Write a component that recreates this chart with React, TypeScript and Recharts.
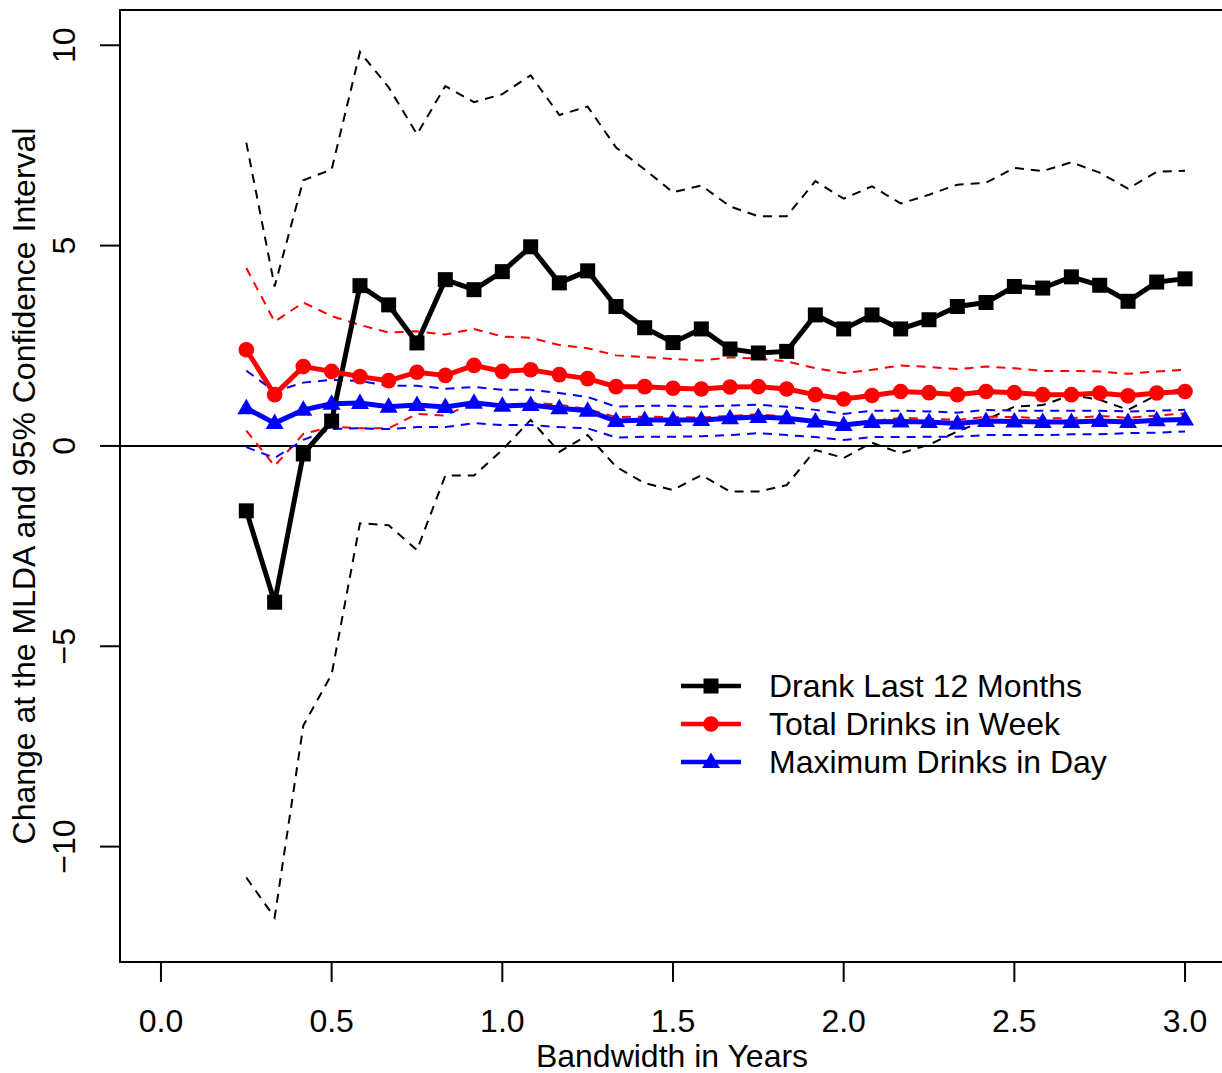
import React from "react";
import {
  LineChart,
  Line,
  XAxis,
  YAxis,
  ReferenceLine,
  ReferenceArea,
} from "recharts";

// bandwidth (years) of each estimate
const bandwidth = [
  0.25, 0.333, 0.417, 0.5, 0.583, 0.667, 0.75, 0.833, 0.917, 1, 1.083, 1.167,
  1.25, 1.333, 1.417, 1.5, 1.583, 1.667, 1.75, 1.833, 1.917, 2, 2.083, 2.167,
  2.25, 2.333, 2.417, 2.5, 2.583, 2.667, 2.75, 2.833, 2.917, 3,
];

// Drank Last 12 Months
const drankEst = [
  -1.62, -3.9, -0.2, 0.62, 4.0, 3.52, 2.57, 4.15, 3.9, 4.35, 4.97, 4.07, 4.37,
  3.48, 2.95, 2.58, 2.92, 2.42, 2.32, 2.36, 3.27, 2.92, 3.27, 2.92, 3.15, 3.48,
  3.58, 3.98, 3.94, 4.22, 4.01, 3.61, 4.09, 4.17,
];
const drankUpper = [
  7.57, 3.98, 6.63, 6.9, 9.83, 8.95, 7.78, 8.98, 8.58, 8.78, 9.25, 8.26, 8.47,
  7.45, 6.9, 6.33, 6.5, 5.98, 5.73, 5.73, 6.61, 6.17, 6.48, 6.05, 6.27, 6.52,
  6.57, 6.94, 6.86, 7.08, 6.82, 6.42, 6.84, 6.87,
];
const drankLower = [
  -10.77, -11.77, -6.98, -5.7, -1.93, -1.98, -2.6, -0.74, -0.74, -0.1, 0.65,
  -0.15, 0.27, -0.52, -0.93, -1.1, -0.73, -1.14, -1.14, -0.98, -0.1, -0.3, 0.08,
  -0.18, 0.03, 0.36, 0.65, 0.98, 1.02, 1.27, 1.15, 0.9, 1.27, 1.45,
];

// Total Drinks in Week
const totalEst = [
  2.4, 1.28, 1.98, 1.86, 1.73, 1.63, 1.84, 1.76, 2.01, 1.86, 1.9, 1.78, 1.68,
  1.48, 1.48, 1.44, 1.42, 1.47, 1.48, 1.42, 1.28, 1.17, 1.26, 1.36, 1.33, 1.28,
  1.36, 1.33, 1.28, 1.28, 1.32, 1.25, 1.32, 1.36,
];
const totalUpper = [
  4.44, 3.1, 3.58, 3.24, 3.02, 2.83, 2.86, 2.78, 2.92, 2.73, 2.7, 2.52, 2.44,
  2.26, 2.22, 2.17, 2.13, 2.21, 2.18, 2.11, 1.94, 1.82, 1.9, 2.01, 1.97, 1.92,
  1.98, 1.94, 1.87, 1.87, 1.86, 1.8, 1.86, 1.9,
];
const totalLower = [
  0.38, -0.5, 0.3, 0.48, 0.44, 0.44, 0.8, 0.76, 1.08, 1.0, 1.08, 1.03, 0.92,
  0.72, 0.73, 0.72, 0.71, 0.75, 0.79, 0.73, 0.63, 0.55, 0.62, 0.7, 0.68, 0.65,
  0.73, 0.72, 0.69, 0.69, 0.75, 0.7, 0.76, 0.81,
];

// Maximum Drinks in Day
const maxEst = [
  0.94, 0.57, 0.9, 1.05, 1.07, 0.98, 1.02, 0.97, 1.08, 1.0, 1.02, 0.94, 0.88,
  0.62, 0.65, 0.65, 0.65, 0.69, 0.72, 0.69, 0.61, 0.52, 0.6, 0.61, 0.6, 0.56,
  0.62, 0.61, 0.6, 0.6, 0.62, 0.6, 0.64, 0.66,
];
const maxUpper = [
  1.88, 1.36, 1.58, 1.65, 1.62, 1.5, 1.5, 1.43, 1.47, 1.4, 1.4, 1.32, 1.22,
  0.98, 1.0, 1.0, 0.98, 1.01, 1.03, 0.98, 0.9, 0.8, 0.88, 0.88, 0.86, 0.83, 0.9,
  0.88, 0.88, 0.88, 0.88, 0.86, 0.88, 0.9,
];
const maxLower = [
  -0.03, -0.3, 0.15, 0.42, 0.44, 0.42, 0.47, 0.47, 0.57, 0.52, 0.52, 0.47, 0.44,
  0.21, 0.23, 0.23, 0.24, 0.27, 0.32, 0.27, 0.22, 0.15, 0.22, 0.22, 0.23, 0.23,
  0.27, 0.27, 0.27, 0.29, 0.29, 0.32, 0.33, 0.36,
];

const xTicks = [0, 0.5, 1, 1.5, 2, 2.5, 3];
const yTicks = [-10, -5, 0, 5, 10];

const legendItems = [
  { label: "Drank Last 12 Months", color: "#000000", shape: "square" },
  { label: "Total Drinks in Week", color: "#ff0000", shape: "circle" },
  { label: "Maximum Drinks in Day", color: "#0000ff", shape: "triangle" },
];

const data = bandwidth.map((x, i) => ({
  x,
  drank: drankEst[i],
  drankHi: drankUpper[i],
  drankLo: drankLower[i],
  total: totalEst[i],
  totalHi: totalUpper[i],
  totalLo: totalLower[i],
  max: maxEst[i],
  maxHi: maxUpper[i],
  maxLo: maxLower[i],
}));

const FONT = "'Liberation Sans', Arial, Helvetica, sans-serif";
const FS = 32;

function Marker({ shape, cx, cy, color }: any) {
  if (shape === "square")
    return <rect x={cx - 7.5} y={cy - 7.5} width={15} height={15} fill={color} />;
  if (shape === "circle") return <circle cx={cx} cy={cy} r={7.8} fill={color} />;
  return (
    <polygon
      points={`${cx},${cy - 9.5} ${cx - 9},${cy + 6} ${cx + 9},${cy + 6}`}
      fill={color}
    />
  );
}

const dotOf = (shape: string, color: string) => (props: any) => {
  const { cx, cy, index } = props;
  return (
    <Marker key={`${shape}-${index}`} shape={shape} cx={cx} cy={cy} color={color} />
  );
};

function XTick({ x, y, payload }: any) {
  return (
    <text x={x} y={y + 48} textAnchor="middle" fontFamily={FONT} fontSize={FS} fill="#000">
      {Number(payload.value).toFixed(1)}
    </text>
  );
}

function YTick({ x, y, payload }: any) {
  const v = payload.value;
  const label = v < 0 ? "\u2212" + Math.abs(v) : String(v);
  const bx = x - 23;
  return (
    <text
      x={bx}
      y={y}
      transform={`rotate(-90, ${bx}, ${y})`}
      textAnchor="middle"
      fontFamily={FONT}
      fontSize={FS}
      fill="#000"
    >
      {label}
    </text>
  );
}

function XTitle() {
  return (
    <text x={672} y={1067} textAnchor="middle" fontFamily={FONT} fontSize={FS} fill="#000">
      Bandwidth in Years
    </text>
  );
}

function YTitle() {
  return (
    <text
      x={35}
      y={486}
      transform="rotate(-90, 35, 486)"
      textAnchor="middle"
      fontFamily={FONT}
      fontSize={FS}
      fill="#000"
    >
      Change at the MLDA and 95% Confidence Interval
    </text>
  );
}

function Legend() {
  return (
    <svg
      width={480}
      height={130}
      style={{ position: "absolute", left: 660, top: 660 }}
    >
      {legendItems.map((item, i) => {
        const cy = 26 + i * 38;
        return (
          <g key={item.label}>
            <line x1={21} x2={81} y1={cy} y2={cy} stroke={item.color} strokeWidth={4.5} />
            <Marker shape={item.shape} cx={51} cy={cy} color={item.color} />
            <text x={109} y={cy + 11} fontFamily={FONT} fontSize={FS} fill="#000">
              {item.label}
            </text>
          </g>
        );
      })}
    </svg>
  );
}

export default function App() {
  const ci = { strokeWidth: 2, strokeDasharray: "9 7", dot: false, isAnimationActive: false };
  return (
    <div
      style={{
        position: "absolute",
        left: 0,
        top: 0,
        width: 1222,
        height: 1073,
        overflow: "hidden",
        background: "#fff",
      }}
    >
      <LineChart
        width={1240}
        height={1073}
        data={data}
        margin={{ top: 10, right: 14, bottom: 0, left: 0 }}
      >
        <XAxis
          dataKey="x"
          type="number"
          domain={[-0.12, 3.12]}
          ticks={xTicks}
          interval={0}
          allowDataOverflow
          axisLine={false}
          tickLine={{ stroke: "#000", strokeWidth: 2 }}
          tickSize={20}
          height={111}
          tick={<XTick />}
          label={<XTitle />}
        />
        <YAxis
          type="number"
          domain={[-12.88, 10.88]}
          ticks={yTicks}
          interval={0}
          allowDataOverflow
          axisLine={false}
          tickLine={{ stroke: "#000", strokeWidth: 2 }}
          tickSize={20}
          width={120}
          tick={<YTick />}
          label={<YTitle />}
        />
        <ReferenceArea
          x1={-0.12}
          x2={3.12}
          y1={-12.88}
          y2={10.88}
          fill="none"
          fillOpacity={0}
          stroke="#000"
          strokeWidth={2}
        />
        <ReferenceLine y={0} stroke="#000" strokeWidth={2} />

        <Line dataKey="drankHi" stroke="#000" {...ci} />
        <Line dataKey="drankLo" stroke="#000" {...ci} />
        <Line dataKey="totalHi" stroke="#ff0000" {...ci} />
        <Line dataKey="totalLo" stroke="#ff0000" {...ci} />
        <Line dataKey="maxHi" stroke="#0000ff" {...ci} />
        <Line dataKey="maxLo" stroke="#0000ff" {...ci} />

        <Line
          dataKey="drank"
          stroke="#000"
          strokeWidth={5}
          dot={dotOf("square", "#000")}
          isAnimationActive={false}
        />
        <Line
          dataKey="total"
          stroke="#ff0000"
          strokeWidth={5}
          dot={dotOf("circle", "#ff0000")}
          isAnimationActive={false}
        />
        <Line
          dataKey="max"
          stroke="#0000ff"
          strokeWidth={5}
          dot={dotOf("triangle", "#0000ff")}
          isAnimationActive={false}
        />
      </LineChart>
      <Legend />
    </div>
  );
}
